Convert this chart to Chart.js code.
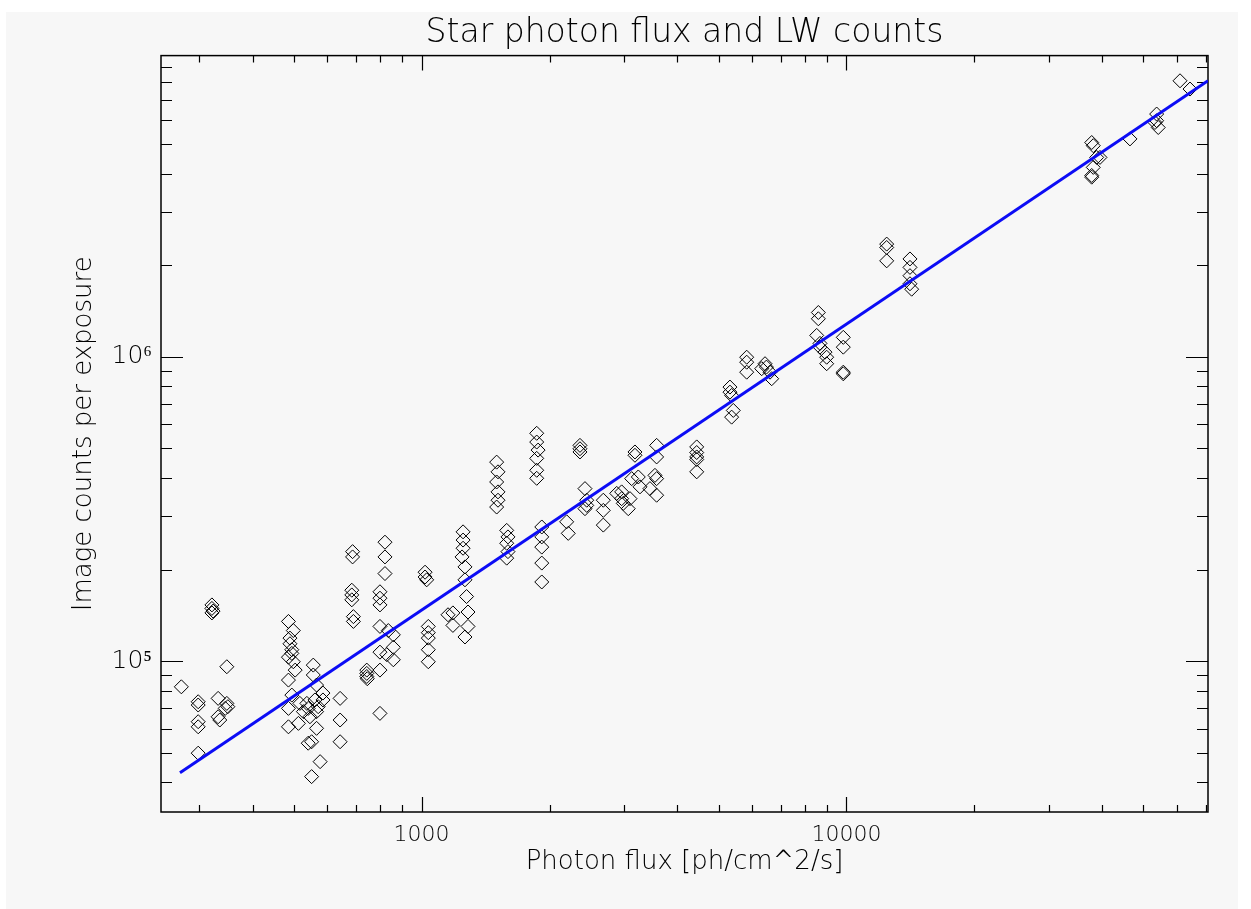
<!DOCTYPE html>
<html>
<head>
<meta charset="utf-8">
<script src="https://cdn.jsdelivr.net/npm/chart.js@4.4.1/dist/chart.umd.min.js"></script>
<style>
  html, body { margin: 0; padding: 0; background: #fff; }
  #wrap { position: relative; width: 1251px; height: 909px; }
</style>
</head>
<body>
<div id="wrap"><canvas id="chart"></canvas></div>
<script>
// star measurements: photon flux [ph/cm^2/s] vs image counts per exposure
const photonFlux = [
  272,
  298, 298, 298, 298, 298,
  321, 321, 323, 321,
  348, 332, 348, 345, 332, 335, 350,
  486, 499, 490, 490, 495, 495, 486, 499, 504, 486, 495, 486, 517, 486, 513, 527, 541, 541,
  556, 556, 566, 561, 571, 566, 546, 566, 551, 577, 551, 537, 586, 586,
  643, 643, 643,
  688, 688, 685, 685, 685, 691, 691,
  743, 743, 743, 745,
  820, 820, 820, 798, 798, 798, 798, 835, 858, 858, 798, 828, 858, 798, 798,
  1019, 1019, 1028, 1037, 1037, 1037, 1037, 1037,
  1154, 1185, 1185, 1252, 1252, 1252, 1245, 1265, 1265, 1276, 1286, 1286, 1265,
  1502, 1513, 1502, 1513, 1513, 1502,
  1586, 1597, 1586, 1597, 1586,
  1866, 1866, 1880, 1866, 1866, 1866,
  1918, 1918, 1918, 1918, 1918,
  2359, 2359, 2359,
  2195, 2214,
  2424, 2447, 2447, 2424,
  2677, 2677, 2677,
  2879, 2957, 2957, 2983, 3094, 3065,
  3178, 3178, 3236, 3266, 3122,
  3574, 3574, 3542, 3574, 3574, 3447,
  4441, 4441, 4441, 4441, 4441,
  5318, 5318, 5367, 5415, 5367,
  5823, 5823, 5823,
  6431, 6480, 6607, 6668, 6316,
  8586, 8586, 8509, 8662, 8662, 8900, 8982, 8982,
  9828, 9828, 9828, 9828,
  12435, 12435, 12435,
  14107, 14107, 14107, 14107, 14237,
  37770, 38090, 38800, 38090, 37770, 37770, 39500,
  46470,
  53700, 53700, 54170, 53210,
  60950, 64340
];
const imageCounts = [
  82300,
  73500, 71700, 63200, 60800, 49800,
  153000, 149000, 146000, 144000,
  95800, 75400, 72600, 69900, 65600, 64000, 70800,
  135000, 126000, 119000, 114000, 109000, 106000, 103000, 99500, 93400, 86600, 77300, 69900, 72600, 60800, 62400, 68200, 69900, 53700,
  97000, 90000, 83400, 74500, 70800, 68200, 65600, 60100, 54300, 46700, 41700, 72600, 78500, 74500,
  75400, 64000, 54300,
  229000, 220000, 171000, 165000, 159000, 140000, 135000,
  93400, 91100, 89000, 87500,
  246000, 220000, 194000, 169000, 161000, 153000, 130000, 126000, 122000, 111000, 107000, 105000, 101000, 93400, 67300,
  196000, 189000, 185000, 130000, 124000, 119000, 109000, 99500,
  142000, 144000, 131000, 266000, 250000, 235000, 220000, 204000, 185000, 163000, 145000, 130000, 120000,
  451000, 419000, 388000, 360000, 338000, 321000,
  269000, 256000, 244000, 229000, 218000,
  561000, 525000, 494000, 464000, 424000, 399000,
  276000, 256000, 237000, 210000, 182000,
  512000, 499000, 487000,
  287000, 263000,
  369000, 338000, 325000, 317000,
  338000, 313000, 280000,
  356000, 360000, 342000, 330000, 342000, 317000,
  487000, 475000, 403000, 374000, 398000,
  512000, 469000, 408000, 398000, 351000, 369000,
  506000, 485000, 469000, 460000, 419000,
  796000, 766000, 747000, 667000, 634000,
  998000, 961000, 891000,
  950000, 926000, 891000, 848000, 915000,
  1400000, 1335000, 1177000, 1108000, 1077000, 1037000, 998000, 950000,
  1160000, 1077000, 891000, 880000,
  2350000, 2290000, 2070000,
  2100000, 1970000, 1850000, 1740000, 1670000,
  5070000, 4950000, 4530000, 4200000, 3950000, 3900000, 4530000,
  5210000,
  6290000, 5980000, 5680000, 5900000,
  8090000, 7600000
];

// fitted power law, drawn between its two end points
const fitFlux = [270, 70930];
const fitCounts = [42900, 8100000];

// axis ranges and ticks
const xRange = [243.6, 70930];
const yRange = [31900, 9790000];
const xTickValues = [300, 400, 500, 600, 700, 800, 900, 1000,
  2000, 3000, 4000, 5000, 6000, 7000, 8000, 9000, 10000,
  20000, 30000, 40000, 50000, 60000, 70000];
const yTickValues = [40000, 50000, 60000, 70000, 80000, 90000, 100000,
  200000, 300000, 400000, 500000, 600000, 700000, 800000, 900000, 1000000,
  2000000, 3000000, 4000000, 5000000, 6000000, 7000000, 8000000, 9000000];
const xLabelValues = [1000, 10000];
const xLabelTexts = ['1000', '10000'];
const yLabelValues = [100000, 1000000];
const yLabelTexts = ['10\u2075', '10\u2076'];

const FONT = 'DejaVu Sans';

// grey panel, box and inward tick marks on all four sides like the IDL plot
const frameTicks = {
  id: 'frameTicks',
  afterLayout(chart) {
    // centre the title over the plot box, not the whole canvas
    if (chart.titleBlock) {
      chart.titleBlock.left = chart.chartArea.left;
      chart.titleBlock.right = chart.chartArea.right;
    }
  },
  beforeDraw(chart) {
    const ctx = chart.ctx;
    ctx.save();
    ctx.fillStyle = '#ffffff';
    ctx.fillRect(0, 0, chart.width, chart.height);
    ctx.fillStyle = '#f7f7f7';
    ctx.fillRect(6, 12, 1232, chart.height - 12);
    ctx.restore();
  },
  beforeDatasetsDraw(chart) {
    const ctx = chart.ctx;
    const {left, right, top, bottom} = chart.chartArea;
    const xs = chart.scales.x, ys = chart.scales.y;
    ctx.save();
    ctx.strokeStyle = '#000';
    ctx.lineWidth = 1.5;
    ctx.strokeRect(left, top, right - left, bottom - top);
    ctx.lineWidth = 1.2;
    ctx.beginPath();
    xTickValues.forEach(v => {
      const px = Math.round(xs.getPixelForValue(v)) + 0.5;
      const len = xLabelValues.includes(v) ? 15 : 7;
      ctx.moveTo(px, bottom); ctx.lineTo(px, bottom - len);
      ctx.moveTo(px, top); ctx.lineTo(px, top + len);
    });
    yTickValues.forEach(v => {
      const py = Math.round(ys.getPixelForValue(v)) + 0.5;
      const len = yLabelValues.includes(v) ? 22 : 11;
      ctx.moveTo(left, py); ctx.lineTo(left + len, py);
      ctx.moveTo(right, py); ctx.lineTo(right - len, py);
    });
    ctx.stroke();
    ctx.restore();
  }
};

const ctx = document.getElementById('chart').getContext('2d');
new Chart(ctx, {
  type: 'scatter',
  data: {
    datasets: [
      {
        label: 'fit',
        data: fitFlux.map((x, i) => ({x: x, y: fitCounts[i]})),
        showLine: true,
        borderColor: '#0c0cf5',
        borderWidth: 3,
        pointRadius: 0,
        order: 0
      },
      {
        label: 'stars',
        data: photonFlux.map((x, i) => ({x: x, y: imageCounts[i]})),
        pointStyle: 'rectRot',
        pointRadius: 7,
        borderColor: '#000',
        borderWidth: 1,
        backgroundColor: 'rgba(0,0,0,0)',
        order: 1
      }
    ]
  },
  options: {
    responsive: true,
    maintainAspectRatio: false,
    animation: false,
    events: [],
    layout: { padding: { left: 0, right: 43, top: 0, bottom: 0 } },
    plugins: {
      legend: { display: false },
      tooltip: { enabled: false },
      title: {
        display: true,
        text: 'Star photon flux and LW counts',
        color: '#000',
        font: { family: FONT, size: 33, weight: '200' },
        padding: { top: 14, bottom: 2 }
      }
    },
    scales: {
      x: {
        type: 'logarithmic',
        min: xRange[0],
        max: xRange[1],
        afterBuildTicks: s => { s.ticks = xTickValues.map(v => ({value: v})); },
        afterFit: s => { s.height = 97; },
        grid: { display: false, drawTicks: false },
        border: { display: false },
        ticks: {
          autoSkip: false,
          maxRotation: 0,
          padding: 10,
          color: '#000',
          font: { family: FONT, size: 22, weight: '200' },
          callback: v => {
            const i = xLabelValues.indexOf(v);
            return i >= 0 ? xLabelTexts[i] : '';
          }
        },
        title: {
          display: true,
          text: 'Photon flux [ph/cm^2/s]',
          color: '#000',
          font: { family: FONT, size: 26, weight: '200' },
          padding: { top: 4, bottom: 31 }
        }
      },
      y: {
        type: 'logarithmic',
        min: yRange[0],
        max: yRange[1],
        afterBuildTicks: s => { s.ticks = yTickValues.map(v => ({value: v})); },
        afterFit: s => { s.width = 161; },
        grid: { display: false, drawTicks: false },
        border: { display: false },
        ticks: {
          autoSkip: false,
          padding: 9,
          color: '#000',
          font: { family: FONT, size: 25, weight: '200' },
          callback: v => {
            const i = yLabelValues.indexOf(v);
            return i >= 0 ? yLabelTexts[i] : '';
          }
        },
        title: {
          display: true,
          text: 'Image counts per exposure',
          color: '#000',
          font: { family: FONT, size: 26, weight: '200' },
          padding: { top: 69, bottom: 4 }
        }
      }
    }
  },
  plugins: [frameTicks]
});
</script>
</body>
</html>
